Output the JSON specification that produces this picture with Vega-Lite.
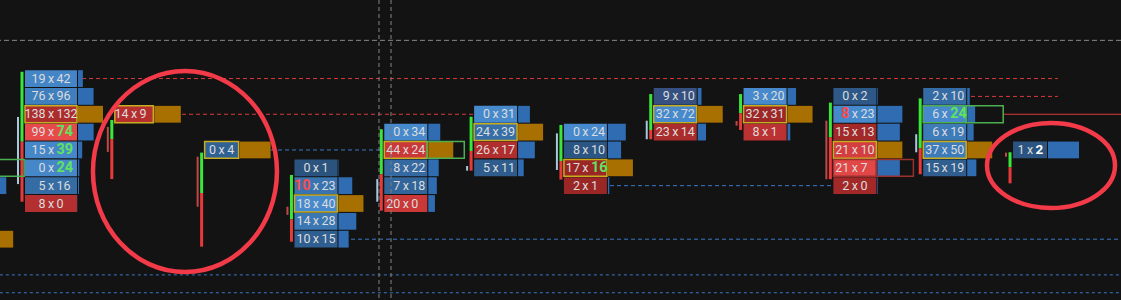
{
  "$schema": "https://vega.github.io/schema/vega-lite/v6.json",
  "width": 1121,
  "height": 300,
  "padding": 0,
  "autosize": {"type": "none"},
  "background": "#131313",
  "config": {"view": {"stroke": null}},
  "datasets": {
    "cells": [
      {"t": -1, "p": 2, "bid": 18, "ask": 52, "zone": "bull"},
      {"t": -1, "p": 1, "bid": 76, "ask": 84},
      {"t": -1, "p": -2, "bid": 112, "ask": 106, "poc": true},
      {"t": 0, "p": 7, "bid": 19, "ask": 42},
      {"t": 0, "p": 6, "bid": 76, "ask": 96},
      {"t": 0, "p": 5, "bid": 138, "ask": 132, "poc": true},
      {"t": 0, "p": 4, "bid": 99, "ask": 74, "imb": "ask"},
      {"t": 0, "p": 3, "bid": 15, "ask": 39, "imb": "ask"},
      {"t": 0, "p": 2, "bid": 0, "ask": 24, "imb": "ask"},
      {"t": 0, "p": 1, "bid": 5, "ask": 16},
      {"t": 0, "p": 0, "bid": 8, "ask": 0},
      {"t": 1, "p": 5, "bid": 14, "ask": 9, "poc": true},
      {"t": 2, "p": 3, "bid": 0, "ask": 4, "poc": true},
      {"t": 3, "p": 2, "bid": 0, "ask": 1},
      {"t": 3, "p": 1, "bid": 10, "ask": 23, "imb": "bid"},
      {"t": 3, "p": 0, "bid": 18, "ask": 40, "poc": true},
      {"t": 3, "p": -1, "bid": 14, "ask": 28},
      {"t": 3, "p": -2, "bid": 10, "ask": 15},
      {"t": 4, "p": 4, "bid": 0, "ask": 34},
      {"t": 4, "p": 3, "bid": 44, "ask": 24, "poc": true, "zone": "bull"},
      {"t": 4, "p": 2, "bid": 8, "ask": 22},
      {"t": 4, "p": 1, "bid": 7, "ask": 18},
      {"t": 4, "p": 0, "bid": 20, "ask": 0},
      {"t": 5, "p": 5, "bid": 0, "ask": 31},
      {"t": 5, "p": 4, "bid": 24, "ask": 39, "poc": true},
      {"t": 5, "p": 3, "bid": 26, "ask": 17},
      {"t": 5, "p": 2, "bid": 5, "ask": 11},
      {"t": 6, "p": 4, "bid": 0, "ask": 24},
      {"t": 6, "p": 3, "bid": 8, "ask": 10},
      {"t": 6, "p": 2, "bid": 17, "ask": 16, "poc": true, "imb": "ask"},
      {"t": 6, "p": 1, "bid": 2, "ask": 1},
      {"t": 7, "p": 6, "bid": 9, "ask": 10},
      {"t": 7, "p": 5, "bid": 32, "ask": 72, "poc": true},
      {"t": 7, "p": 4, "bid": 23, "ask": 14},
      {"t": 8, "p": 6, "bid": 3, "ask": 20},
      {"t": 8, "p": 5, "bid": 32, "ask": 31, "poc": true},
      {"t": 8, "p": 4, "bid": 8, "ask": 1},
      {"t": 9, "p": 6, "bid": 0, "ask": 2},
      {"t": 9, "p": 5, "bid": 8, "ask": 23, "imb": "bid"},
      {"t": 9, "p": 4, "bid": 15, "ask": 13},
      {"t": 9, "p": 3, "bid": 21, "ask": 10, "poc": true},
      {"t": 9, "p": 2, "bid": 21, "ask": 7, "zone": "bear"},
      {"t": 9, "p": 1, "bid": 2, "ask": 0},
      {"t": 10, "p": 6, "bid": 2, "ask": 10},
      {"t": 10, "p": 5, "bid": 6, "ask": 24, "imb": "ask", "zone": "bull"},
      {"t": 10, "p": 4, "bid": 6, "ask": 19},
      {"t": 10, "p": 3, "bid": 37, "ask": 50, "poc": true},
      {"t": 10, "p": 2, "bid": 15, "ask": 19},
      {"t": 11, "p": 3, "bid": 1, "ask": 2, "last": true}
    ],
    "candles": [
      {"t": 0, "hi": 7.38, "mid": 3.46, "lo": 0.10, "bt": 4.85, "bb": 1.09, "dir": "up"},
      {"t": 1, "hi": 4.68, "mid": 3.61, "lo": 1.37, "bt": 4.29, "bb": 2.89, "dir": "down"},
      {"t": 2, "hi": 2.85, "mid": 0.59, "lo": -2.42, "bt": 2.62, "bb": -0.18, "dir": "down"},
      {"t": 3, "hi": 1.60, "mid": -0.89, "lo": -2.14, "bt": -0.18, "bb": -0.64, "dir": "down"},
      {"t": 4, "hi": 4.16, "mid": 1.64, "lo": -0.40, "bt": 1.37, "bb": 0.10, "dir": "up"},
      {"t": 5, "hi": 4.86, "mid": 2.94, "lo": 1.84, "bt": 2.10, "bb": 1.84, "dir": "up"},
      {"t": 6, "hi": 4.40, "mid": 2.38, "lo": 1.34, "bt": 3.93, "bb": 1.88, "dir": "up"},
      {"t": 7, "hi": 6.13, "mid": 4.12, "lo": 3.60, "bt": 4.64, "bb": 3.60, "dir": "up"},
      {"t": 8, "hi": 6.13, "mid": 5.05, "lo": 4.12, "bt": 4.62, "bb": 4.36, "dir": "down"},
      {"t": 9, "hi": 5.65, "mid": 3.71, "lo": 1.36, "bt": 4.64, "bb": 1.36, "dir": "down"},
      {"t": 10, "hi": 5.89, "mid": 3.09, "lo": 1.64, "bt": 3.88, "bb": 2.87, "dir": "up"},
      {"t": 11, "hi": 2.87, "mid": 2.03, "lo": 1.13, "bt": 2.85, "bb": 2.62, "dir": "down"}
    ],
    "levels": [
      {"kind": "rd", "p": 7, "t0": 0.635, "t1": 11.5},
      {"kind": "rd", "p": 5, "t0": 1.748, "t1": 5.0},
      {"kind": "rd", "p": 6, "t0": 10.532, "t1": 11.5},
      {"kind": "rs", "p": 5, "t0": 10.9, "t1": 12.21},
      {"kind": "bd", "p": 3, "t0": 2.739, "t1": 3.97},
      {"kind": "bd", "p": -2, "t0": 3.63, "t1": 12.21},
      {"kind": "bd", "p": 1, "t0": 6.513, "t1": 9.0},
      {"kind": "bt", "p": -4, "t0": -0.28, "t1": 12.21},
      {"kind": "bt", "p": -5, "t0": -0.28, "t1": 12.21}
    ],
    "guides": [
      {"kind": "v", "t": 3.941},
      {"kind": "v", "t": 4.075},
      {"kind": "h", "p": 9.14}
    ],
    "notes": [
      {"id": "a", "t": 1.781, "p": 1.79},
      {"id": "b", "t": 11.423, "p": 2.13}
    ]
  },
  "layer": [
    {
      "data": {"name": "levels"},
      "mark": {"type": "rule", "strokeWidth": 1},
      "encoding": {
        "x": {"field": "t0", "type": "quantitative", "scale": {"domain": [-0.2783, 12.2022], "nice": false, "zero": false},
              "axis": {"values": [0, 2, 4, 6, 8, 10], "grid": true, "gridColor": "#363636", "gridDash": [4, 4], "gridWidth": 1, "labels": false, "ticks": false, "domain": false, "title": null}},
        "x2": {"field": "t1"},
        "y": {"field": "p", "type": "quantitative", "scale": {"domain": [-5.406, 11.401], "nice": false, "zero": false},
              "axis": {"values": [-2.38, 1.62, 5.62, 9.63], "grid": true, "gridColor": "#3a3a3a", "gridDash": [4, 4], "gridWidth": 1, "labels": false, "ticks": false, "domain": false, "title": null}},
        "stroke": {"condition": [{"test": "datum.kind === 'bd' || datum.kind === 'bt'", "value": "#3a79c8"}], "value": "#d93b3b"},
        "strokeDash": {"condition": [{"test": "datum.kind === 'rs'", "value": [1, 0]}, {"test": "datum.kind === 'bt'", "value": [3, 3]}], "value": [4, 3]}
      }
    },
    {
      "data": {"name": "candles"},
      "layer": [
        {
          "mark": {"type": "rule", "xOffset": -3, "strokeWidth": 3, "color": "#3ae63a"},
          "encoding": {
            "x": {"field": "t", "type": "quantitative", "scale": {"domain": [-0.2783, 12.2022], "nice": false, "zero": false}, "axis": null},
            "y": {"field": "hi", "type": "quantitative", "scale": {"domain": [-5.406, 11.401], "nice": false, "zero": false}, "axis": null},
            "y2": {"field": "mid"}
          }
        },
        {
          "mark": {"type": "rule", "xOffset": -3, "strokeWidth": 3, "color": "#e83a3a"},
          "encoding": {
            "x": {"field": "t", "type": "quantitative", "axis": null},
            "y": {"field": "mid", "type": "quantitative", "axis": null},
            "y2": {"field": "lo"}
          }
        },
        {
          "mark": {"type": "rule", "xOffset": -7, "strokeWidth": 2},
          "encoding": {
            "x": {"field": "t", "type": "quantitative", "axis": null},
            "y": {"field": "bt", "type": "quantitative", "axis": null},
            "y2": {"field": "bb"},
            "stroke": {"condition": {"test": "datum.dir === 'up'", "value": "#a8c8de"}, "value": "#c24848"}
          }
        }
      ]
    },
    {
      "data": {"name": "cells"},
      "transform": [
        {"calculate": "datum.ask - datum.bid", "as": "d"},
        {"calculate": "datum.bid + datum.ask", "as": "vol"},
        {"calculate": "abs(datum.ask - datum.bid)", "as": "ad"},
        {"calculate": "length(toString(datum.bid)) + length(toString(datum.ask))", "as": "nd"},
        {"joinaggregate": [{"op": "max", "field": "nd", "as": "maxd"}, {"op": "max", "field": "vol", "as": "maxv"}, {"op": "max", "field": "ad", "as": "maxad"}], "groupby": ["t"]},
        {"calculate": "25 + 4.5 * datum.maxd", "as": "wpx"},
        {"calculate": "datum.t + datum.wpx / 89.82", "as": "xe"},
        {"calculate": "datum.t + datum.wpx / 179.64", "as": "xc"},
        {"calculate": "datum.xe + 1 / 89.82", "as": "xb0"},
        {"calculate": "datum.xe + datum.vol / datum.maxv * max(26, 66 - datum.wpx) / 89.82", "as": "xb1"},
        {"calculate": "datum.xe + 37 / 89.82", "as": "xz"},
        {"calculate": "datum.d / max(datum.maxad, 15)", "as": "r"},
        {"calculate": "datum.p - 0.47", "as": "y0"},
        {"calculate": "datum.p + 0.47", "as": "y1"}
      ],
      "layer": [
        {
          "mark": {"type": "rect", "strokeWidth": 1.5},
          "encoding": {
            "x": {"field": "t", "type": "quantitative", "axis": null},
            "x2": {"field": "xe"},
            "y": {"field": "y0", "type": "quantitative", "axis": null},
            "y2": {"field": "y1"},
            "fill": {"field": "r", "type": "quantitative", "legend": null,
                     "scale": {"domain": [-1, -0.5, -0.03, 0.03, 0.5, 1], "range": ["#e64a4a", "#c43434", "#9a2626", "#2a527d", "#3670aa", "#4689cc"], "clamp": true}},
            "stroke": {"condition": [{"test": "datum.poc", "value": "#c8ad20"}, {"test": "datum.zone === 'bull'", "value": "#4caf50"}, {"test": "datum.zone === 'bear'", "value": "#9a3030"}], "value": "transparent"}
          }
        },
        {
          "mark": {"type": "rect"},
          "encoding": {
            "x": {"field": "xb0", "type": "quantitative", "axis": null},
            "x2": {"field": "xb1"},
            "y": {"field": "y0", "type": "quantitative", "axis": null},
            "y2": {"field": "y1"},
            "fill": {"condition": {"test": "datum.poc", "value": "#a87000"}, "value": "#2f6cb2"}
          }
        },
        {
          "transform": [{"filter": "datum.zone"}],
          "mark": {"type": "rect", "fillOpacity": 0, "strokeWidth": 1.5},
          "encoding": {
            "x": {"field": "xe", "type": "quantitative", "axis": null},
            "x2": {"field": "xz"},
            "y": {"field": "y0", "type": "quantitative", "axis": null},
            "y2": {"field": "y1"},
            "stroke": {"condition": {"test": "datum.zone === 'bull'", "value": "#4caf50"}, "value": "#9a3030"}
          }
        },
        {
          "transform": [{"filter": "datum.t >= 0"}],
          "mark": {"type": "text", "text": "x", "font": "Liberation Sans Narrow, Roboto", "fontSize": 12.5, "fill": "#dcdcdc", "baseline": "middle", "align": "center"},
          "encoding": {
            "x": {"field": "xc", "type": "quantitative", "axis": null},
            "y": {"field": "p", "type": "quantitative", "axis": null}
          }
        },
        {
          "transform": [{"filter": "datum.t >= 0 && datum.imb !== 'bid'"}],
          "mark": {"type": "text", "font": "Liberation Sans Narrow, Roboto", "fontSize": 12.5, "fill": "#dcdcdc", "baseline": "middle", "align": "right", "dx": -5.5},
          "encoding": {
            "x": {"field": "xc", "type": "quantitative", "axis": null},
            "y": {"field": "p", "type": "quantitative", "axis": null},
            "text": {"field": "bid", "type": "quantitative"}
          }
        },
        {
          "transform": [{"filter": "datum.t >= 0 && datum.imb === 'bid'"}],
          "mark": {"type": "text", "font": "Liberation Sans Narrow, Roboto", "fontSize": 14.5, "fontWeight": "bold", "fill": "#ff4a4a", "baseline": "middle", "align": "right", "dx": -5.5},
          "encoding": {
            "x": {"field": "xc", "type": "quantitative", "axis": null},
            "y": {"field": "p", "type": "quantitative", "axis": null},
            "text": {"field": "bid", "type": "quantitative"}
          }
        },
        {
          "transform": [{"filter": "datum.t >= 0 && datum.imb !== 'ask' && !datum.last"}],
          "mark": {"type": "text", "font": "Liberation Sans Narrow, Roboto", "fontSize": 12.5, "fill": "#dcdcdc", "baseline": "middle", "align": "left", "dx": 5.5},
          "encoding": {
            "x": {"field": "xc", "type": "quantitative", "axis": null},
            "y": {"field": "p", "type": "quantitative", "axis": null},
            "text": {"field": "ask", "type": "quantitative"}
          }
        },
        {
          "transform": [{"filter": "datum.t >= 0 && datum.imb === 'ask'"}],
          "mark": {"type": "text", "font": "Liberation Sans Narrow, Roboto", "fontSize": 14.5, "fontWeight": "bold", "fill": "#5fe35f", "baseline": "middle", "align": "left", "dx": 5.5},
          "encoding": {
            "x": {"field": "xc", "type": "quantitative", "axis": null},
            "y": {"field": "p", "type": "quantitative", "axis": null},
            "text": {"field": "ask", "type": "quantitative"}
          }
        },
        {
          "transform": [{"filter": "datum.last"}],
          "mark": {"type": "text", "font": "Liberation Sans Narrow, Roboto", "fontSize": 13.5, "fontWeight": "bold", "fill": "#ffffff", "baseline": "middle", "align": "left", "dx": 5.5},
          "encoding": {
            "x": {"field": "xc", "type": "quantitative", "axis": null},
            "y": {"field": "p", "type": "quantitative", "axis": null},
            "text": {"field": "ask", "type": "quantitative"}
          }
        }
      ]
    },
    {
      "data": {"name": "guides"},
      "transform": [{"filter": "datum.kind === 'v'"}],
      "mark": {"type": "rule", "stroke": "#7a7a7a", "strokeWidth": 1.5, "strokeDash": [4, 3], "opacity": 0.75},
      "encoding": {
        "x": {"field": "t", "type": "quantitative", "axis": null}
      }
    },
    {
      "data": {"name": "guides"},
      "transform": [{"filter": "datum.kind === 'h'"}],
      "mark": {"type": "rule", "stroke": "#8a8a8a", "strokeWidth": 1, "strokeDash": [5, 3]},
      "encoding": {
        "y": {"field": "p", "type": "quantitative", "axis": null}
      }
    },
    {
      "data": {"name": "notes"},
      "transform": [{"filter": "datum.id === 'a'"}],
      "mark": {"type": "point", "shape": "M -1 0 A 1 1.092 0 1 1 1 0 A 1 1.092 0 1 1 -1 0 Z", "size": 33856, "filled": false, "stroke": "#f23a48", "strokeWidth": 4.5, "opacity": 1},
      "encoding": {
        "x": {"field": "t", "type": "quantitative", "axis": null},
        "y": {"field": "p", "type": "quantitative", "axis": null}
      }
    },
    {
      "data": {"name": "notes"},
      "transform": [{"filter": "datum.id === 'b'"}],
      "mark": {"type": "point", "shape": "M -1 0 A 1 0.664 0 1 1 1 0 A 1 0.664 0 1 1 -1 0 Z", "size": 16384, "filled": false, "stroke": "#f23a48", "strokeWidth": 4.5, "opacity": 1},
      "encoding": {
        "x": {"field": "t", "type": "quantitative", "axis": null},
        "y": {"field": "p", "type": "quantitative", "axis": null}
      }
    }
  ]
}
